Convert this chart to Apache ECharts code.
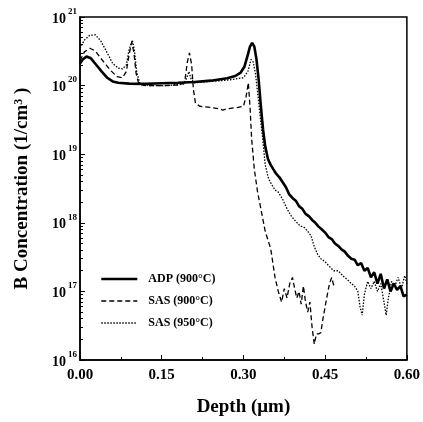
<!DOCTYPE html>
<html>
<head>
<meta charset="utf-8">
<script src="https://cdn.jsdelivr.net/npm/echarts@6/dist/echarts.min.js"></script>
<style>html,body{margin:0;padding:0;background:#fff;}#c{width:423px;height:422px;}</style>
</head>
<body>
<div id="c"></div>
<script>
var seriesNames = ['ADP (900°C)', 'SAS (900°C)', 'SAS (950°C)'];
var xTicks = [0, 0.15, 0.30, 0.45, 0.60];

var adpDepth = [0.000,0.005,0.012,0.020,0.030,0.040,0.050,0.060,0.070,0.090,0.120,0.150,0.180,0.210,0.240,0.270,0.285,0.295,0.302,0.308,0.312,0.316,0.320,0.324,0.328,0.332,0.336,0.340,0.345,0.350,0.355,0.360,0.366,0.372,0.378,0.384,0.390,0.396,0.402,0.408,0.414,0.420,0.426,0.432,0.438,0.444,0.450,0.456,0.462,0.468,0.474,0.480,0.486,0.492,0.498,0.504,0.510,0.516,0.522,0.528,0.534,0.540,0.546,0.552,0.558,0.564,0.570,0.576,0.582,0.588,0.594,0.600];
var adpConc = [2.1e20,2.4e20,2.65e20,2.5e20,2.0e20,1.6e20,1.3e20,1.15e20,1.1e20,1.07e20,1.06e20,1.08e20,1.1e20,1.13e20,1.18e20,1.28e20,1.38e20,1.55e20,1.9e20,2.8e20,3.7e20,4.2e20,3.7e20,2.4e20,1.2e20,5.0e19,2.3e19,1.3e19,8.5e18,7.0e18,6.0e18,5.2e18,4.6e18,3.9e18,3.3e18,2.6e18,2.3e18,2.1e18,1.75e18,1.6e18,1.35e18,1.25e18,1.1e18,1.0e18,8.8e17,8.0e17,7.2e17,6.2e17,5.8e17,5.0e17,4.6e17,4.1e17,3.8e17,3.3e17,3.0e17,2.9e17,2.4e17,2.6e17,2.0e17,2.2e17,1.6e17,1.9e17,1.3e17,1.8e17,1.1e17,1.5e17,1.0e17,1.3e17,1.05e17,1.2e17,8.5e16,9.0e16];

var sas900Depth = [0.000,0.008,0.018,0.028,0.040,0.055,0.068,0.078,0.085,0.090,0.095,0.099,0.103,0.108,0.120,0.150,0.180,0.192,0.197,0.201,0.205,0.208,0.212,0.220,0.240,0.255,0.262,0.270,0.290,0.300,0.305,0.309,0.312,0.315,0.320,0.326,0.332,0.340,0.350,0.358,0.364,0.370,0.375,0.380,0.385,0.390,0.394,0.398,0.402,0.406,0.410,0.414,0.418,0.422,0.426,0.430,0.434,0.438,0.442,0.446,0.450,0.454,0.458,0.462,0.466];
var sas900Conc = [2.3e20,3.1e20,3.5e20,3.2e20,2.4e20,1.7e20,1.35e20,1.3e20,1.6e20,2.8e20,4.3e20,3.0e20,1.5e20,1.05e20,1.0e20,1.0e20,1.02e20,1.1e20,2.2e20,3.0e20,2.0e20,9e19,5.5e19,5.0e19,4.8e19,4.6e19,4.4e19,4.6e19,4.8e19,5.0e19,7e19,1.1e20,5e19,1.7e19,6e18,2.8e18,1.6e18,7.5e17,4.2e17,1.6e17,1.0e17,7e16,1.1e17,8e16,1.3e17,1.6e17,1.1e17,8e16,1.0e17,6.5e16,1.2e17,7e16,5e16,7e16,3e16,1.7e16,2.4e16,2.4e16,2.5e16,4e16,6e16,9e16,1.3e17,1.6e17,1.2e17];

var sas950Depth = [0.000,0.008,0.018,0.028,0.038,0.050,0.060,0.070,0.078,0.085,0.090,0.096,0.100,0.104,0.110,0.130,0.160,0.190,0.196,0.200,0.204,0.210,0.240,0.270,0.300,0.308,0.314,0.318,0.322,0.326,0.330,0.335,0.340,0.346,0.352,0.358,0.364,0.372,0.380,0.388,0.396,0.404,0.412,0.418,0.424,0.430,0.436,0.442,0.450,0.458,0.466,0.474,0.482,0.490,0.498,0.504,0.510,0.514,0.518,0.522,0.528,0.534,0.540,0.546,0.552,0.558,0.562,0.566,0.572,0.578,0.584,0.590,0.596,0.600];
var sas950Conc = [3.5e20,4.6e20,5.4e20,5.5e20,4.5e20,3.0e20,2.1e20,1.8e20,1.75e20,2.0e20,3.3e20,4.6e20,3.2e20,1.6e20,1.05e20,1.0e20,1.0e20,1.05e20,1.3e20,1.6e20,1.25e20,1.1e20,1.15e20,1.2e20,1.3e20,1.6e20,2.4e20,2.2e20,1.5e20,8e19,4e19,1.8e19,7e18,4.4e18,3.6e18,3.0e18,2.8e18,2.2e18,1.6e18,1.25e18,1.05e18,9e17,8.5e17,7.5e17,6.5e17,4.5e17,3.5e17,3.0e17,2.7e17,2.3e17,2.0e17,2.0e17,1.7e17,1.5e17,1.3e17,1.2e17,1.0e17,6e16,4.5e16,9e16,1.4e17,1.1e17,1.4e17,1.0e17,1.3e17,7e16,4.5e16,8e16,1.4e17,1.2e17,1.6e17,1.1e17,1.7e17,1.3e17];

function pairs(xs, ys){ return xs.map(function(x,i){ return [x, ys[i]]; }); }

var FONT = '"Liberation Serif", "DejaVu Serif", serif';
var lineW = [2.6, 1.3, 1.3];
var lineT = ['solid', [5, 3], [1.5, 1.5]];
var chart = echarts.init(document.getElementById('c'), null, {renderer:'canvas'});
chart.setOption({
  backgroundColor: '#fff',
  animation: false,
  grid: {left: 80, right: 12, top: 17, bottom: 59, show: true, borderColor: '#000', borderWidth: 1.5, backgroundColor: 'transparent'},
  legend: {
    orient: 'vertical', left: 100, top: 273, itemWidth: 36, itemHeight: 12, itemGap: 10,
    padding: 0,
    data: seriesNames.map(function(n, i){ return {name: n, lineStyle: {width: lineW[i], type: lineT[i], color: '#000'}}; }),
    itemStyle: {opacity: 0},
    textStyle: {fontFamily: FONT, fontWeight: 'bold', fontSize: 12, color: '#000', padding: [0,0,0,6]}
  },
  xAxis: {
    type: 'value', min: 0, max: 0.6, interval: 0.15,
    name: 'Depth (μm)', nameLocation: 'middle', nameGap: 38,
    nameTextStyle: {fontFamily: FONT, fontWeight: 'bold', fontSize: 19, color: '#000'},
    axisLine: {lineStyle: {color: '#000', width: 1.5}},
    axisTick: {inside: true, length: 5, lineStyle: {color: '#000'}},
    minorTick: {show: true, splitNumber: 2, length: 3, lineStyle: {color: '#000'}},
    splitLine: {show: false},
    axisLabel: {fontFamily: FONT, fontWeight: 'bold', fontSize: 15, color: '#000', margin: 8,
      formatter: function(v){ return v.toFixed(2); }}
  },
  yAxis: {
    type: 'log', logBase: 10, min: 1e16, max: 1e21,
    name: 'B Concentration (1/cm{s|3} )', nameLocation: 'middle', nameGap: 48, nameRotate: 90,
    nameTextStyle: {fontFamily: FONT, fontWeight: 'bold', fontSize: 19, color: '#000',
      rich: {s: {fontFamily: FONT, fontWeight: 'bold', fontSize: 12, lineHeight: 12, verticalAlign: 'top', color: '#000'}}},
    axisLine: {show: true, lineStyle: {color: '#000', width: 1.5}},
    axisTick: {inside: true, length: 5, lineStyle: {color: '#000'}},
    minorTick: {show: true, splitNumber: 9, length: 3, lineStyle: {color: '#000'}},
    splitLine: {show: false},
    axisLabel: {margin: 3,
      formatter: function(v){ var e = Math.round(Math.log10(v)); return '{b|10}{s|' + e + '}'; },
      rich: {
        b: {fontFamily: FONT, fontWeight: 'bold', fontSize: 14, lineHeight: 20, color: '#000', padding: [4,0,0,0]},
        s: {fontFamily: FONT, fontWeight: 'bold', fontSize: 9, lineHeight: 9, verticalAlign: 'top', color: '#000', padding: [0,0,0,2]}
      }}
  },
  series: seriesNames.map(function(n, i){
    var d = [pairs(adpDepth, adpConc), pairs(sas900Depth, sas900Conc), pairs(sas950Depth, sas950Conc)][i];
    return {name: n, type: 'line', data: d, symbol: 'none', showSymbol: false,
      lineStyle: {color: '#000', width: lineW[i], type: lineT[i]}, itemStyle: {color: '#000'}};
  })
});
</script>
</body>
</html>
